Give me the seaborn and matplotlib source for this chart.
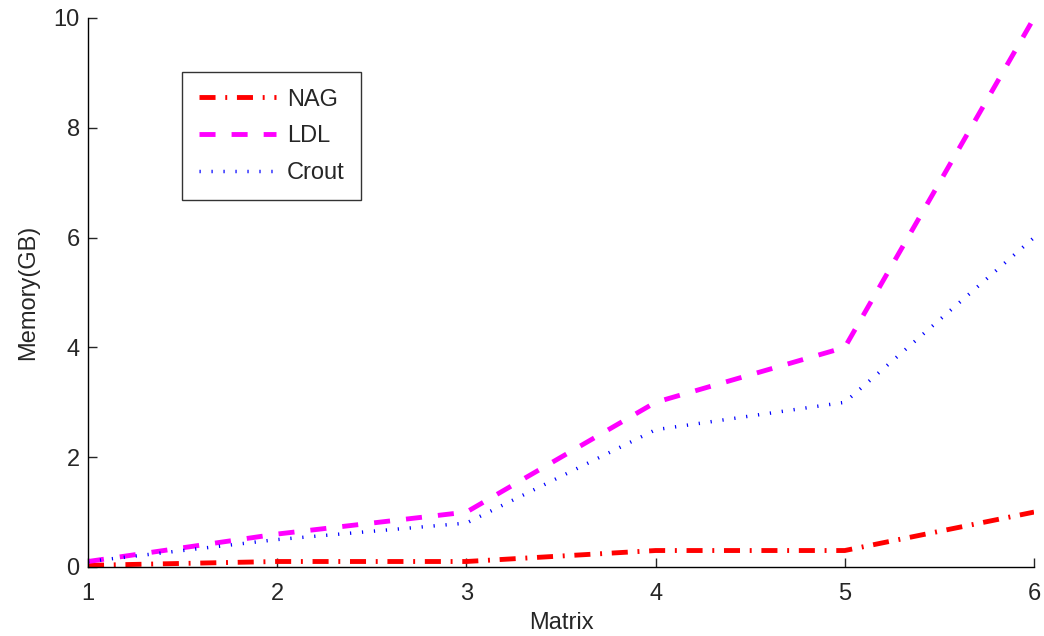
import numpy as np
import pandas as pd
import seaborn as sns
import matplotlib.pyplot as plt

matrix = [1, 2, 3, 4, 5, 6]
nag = [0.03, 0.1, 0.1, 0.3, 0.3, 1.0]
ldl = [0.1, 0.6, 1.0, 3.0, 4.0, 10.0]
crout = [0.1, 0.5, 0.8, 2.5, 3.0, 6.0]

df = pd.DataFrame({'Matrix': matrix, 'NAG': nag, 'LDL': ldl, 'Crout': crout})

sns.set_style('ticks')
plt.rcParams['font.family'] = ['Liberation Sans', 'DejaVu Sans']

fig = plt.figure(figsize=(10.44, 6.36), dpi=100)
ax = fig.add_axes([0.0843, 0.1085, 0.9061, 0.8632])

sns.lineplot(x='Matrix', y='NAG', data=df, ax=ax, color='#ff0000', lw=3.5,
             linestyle=(0, (3.3, 2.0, 0.4, 2.0)), label='NAG')
sns.lineplot(x='Matrix', y='LDL', data=df, ax=ax, color='#ff00ff', lw=3.5,
             linestyle=(0, (3.3, 3.3)), label='LDL')
sns.lineplot(x='Matrix', y='Crout', data=df, ax=ax, color='#0000ff', lw=2.5,
             linestyle=(0, (0.35, 3.1)), label='Crout')

ax.set_xlim(1, 6)
ax.set_ylim(0, 10)
ax.set_xticks(matrix)
ax.set_yticks([0, 2, 4, 6, 8, 10])
ax.set_xlabel('Matrix', fontsize=17, labelpad=5)
ax.set_ylabel('Memory(GB)', fontsize=17, labelpad=10)
ax.tick_params(direction='in', labelsize=17, length=6.5, width=1)
ax.tick_params(axis='x', pad=11.5)
ax.tick_params(axis='y', pad=6)
sns.despine(ax=ax)
for s in ['left', 'bottom']:
    ax.spines[s].set_linewidth(1)
    ax.spines[s].set_color('black')

leg = ax.legend(loc='upper left', bbox_to_anchor=(0.0994, 0.9016), fontsize=17,
                frameon=True, fancybox=False, edgecolor='black',
                handlelength=3.3, borderpad=0.7, labelspacing=0.62,
                handletextpad=0.45, borderaxespad=0)
leg.get_frame().set_linewidth(1)

fig.savefig('out.png', dpi=100)
